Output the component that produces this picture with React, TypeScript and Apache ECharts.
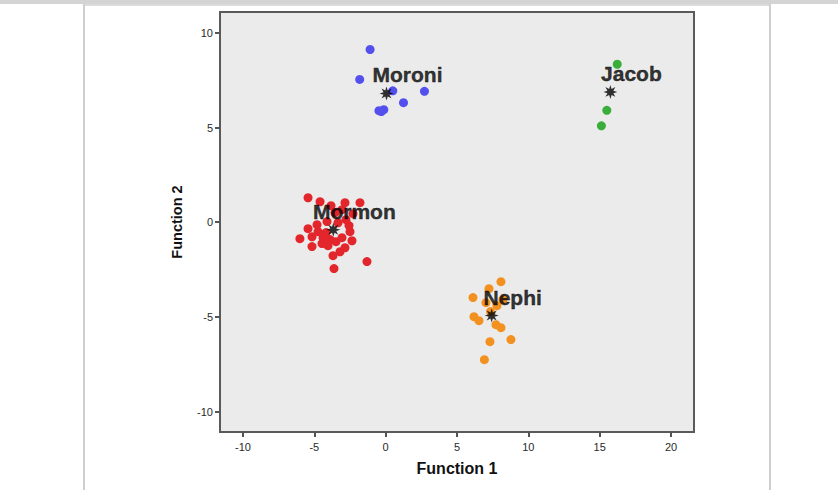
import React, { useEffect, useRef } from "react";
import * as echarts from "echarts";

// Discriminant scores (Function 1, Function 2) per group
const moroni: [number, number][] = [
  [-1.09, 9.12], [-1.82, 7.54], [0.5, 6.94], [2.72, 6.91], [1.25, 6.31],
  [-0.47, 5.89], [-0.13, 5.94], [-0.3, 5.84],
];
const jacob: [number, number][] = [
  [16.23, 8.34], [15.5, 5.91], [15.12, 5.09],
];
const mormon: [number, number][] = [
  [-5.44, 1.29], [-4.6, 1.08], [-2.85, 1.03], [-1.8, 1.03], [-3.83, 0.87],
  [-3.06, 0.66], [-2.29, 0.45], [-5.44, -0.34], [-4.74, -0.5], [-4.18, -0.55],
  [-6.01, -0.87], [-5.16, -1.29], [-4.39, -0.82], [-3.9, -0.92], [-3.48, -1.03],
  [-3.06, -0.82], [-2.5, -0.5], [-2.36, -0.98], [-2.85, -1.35], [-3.69, -1.77],
  [-3.62, -2.45], [-1.31, -2.08], [-4.81, -0.13], [-4.11, 0.03], [-3.34, -0.03],
  [-2.57, -0.18], [-4.46, -1.13], [-3.2, -1.56], [-5.16, -0.77], [-4.04, -1.24],
  [-2.78, 0.13], [-3.55, 0.5],
];
const nephi: [number, number][] = [
  [8.08, -3.14], [7.24, -3.51], [6.12, -3.98], [7.03, -4.25], [7.8, -4.41],
  [8.22, -4.09], [6.19, -4.99], [6.54, -5.2], [7.73, -5.41], [8.08, -5.57],
  [7.31, -6.31], [8.78, -6.2], [6.92, -7.26], [7.35, -4.72],
];

const groupNames = ["Moroni", "Jacob", "Mormon", "Nephi"];
const centroidX = [0.06, 15.75, -3.67, 7.43];
const centroidY = [6.8, 6.88, -0.4, -4.93];

const xTicks = [-10, -5, 0, 5, 10, 15, 20];
const yTicks = [-10, -5, 0, 5, 10];

// 8-spoke asterisk symbol
const starPath = (() => {
  const pts: string[] = [];
  for (let i = 0; i < 16; i++) {
    const r = i % 2 === 0 ? 10 : 4.6;
    const a = (i * Math.PI) / 8 - Math.PI / 2;
    pts.push(`${(10 + r * Math.cos(a)).toFixed(2)} ${(10 + r * Math.sin(a)).toFixed(2)}`);
  }
  return "path://M" + pts.join(" L") + " Z";
})();

const FONT = '"Liberation Sans", Arial, sans-serif';

export default function App() {
  const ref = useRef<HTMLDivElement>(null);
  useEffect(() => {
    if (!ref.current) return;
    const chart = echarts.init(ref.current, null, { renderer: "svg" });
    const dotSeries = (data: [number, number][], color: string) => ({
      type: "scatter",
      data,
      symbol: "circle",
      symbolSize: 9,
      itemStyle: { color, opacity: 1 },
      z: 2,
    });
    chart.setOption({
      animation: false,
      backgroundColor: "#ffffff",
      textStyle: { fontFamily: FONT },
      grid: {
        left: 220, top: 12, width: 474, height: 420,
        show: true, backgroundColor: "#ebebeb", borderColor: "#5a5a5a", borderWidth: 2,
        containLabel: false, outerBoundsMode: "none",
      },
      xAxis: {
        type: "value", min: -11.61, max: 21.61,
        name: "Function 1", nameLocation: "middle", nameGap: 28,
        nameTextStyle: { fontFamily: FONT, fontSize: 16, fontWeight: "bold", color: "#111" },
        axisLine: { show: false, onZero: false },
        splitLine: { show: false },
        axisTick: { show: true, customValues: xTicks, length: 5, lineStyle: { color: "#555", width: 2 } },
        axisLabel: { customValues: xTicks, margin: 9, fontSize: 11, color: "#2a2a2a", fontFamily: FONT },
      },
      yAxis: {
        type: "value", min: -11.08, max: 11.1,
        name: "Function 2", nameLocation: "middle", nameGap: 36, nameRotate: 90,
        nameTextStyle: { fontFamily: FONT, fontSize: 14.5, fontWeight: "bold", color: "#111" },
        axisLine: { show: false, onZero: false },
        splitLine: { show: false },
        axisTick: { show: true, customValues: yTicks, length: 5, lineStyle: { color: "#555", width: 2 } },
        axisLabel: { customValues: yTicks, margin: 7, fontSize: 11, color: "#2a2a2a", fontFamily: FONT },
      },
      graphic: [
        { type: "rect", shape: { x: 0, y: 0, width: 838, height: 4 }, style: { fill: "#d4d4d4" }, silent: true },
        { type: "rect", shape: { x: 83, y: 4, width: 688, height: 2 }, style: { fill: "#dcdcdc" }, silent: true },
        { type: "rect", shape: { x: 83, y: 4, width: 2, height: 486 }, style: { fill: "#cfcfcf" }, silent: true },
        { type: "rect", shape: { x: 769, y: 4, width: 2, height: 486 }, style: { fill: "#cfcfcf" }, silent: true },
      ],
      series: [
        dotSeries(moroni, "#5450ee"),
        dotSeries(jacob, "#3aae3a"),
        dotSeries(mormon, "#e2262c"),
        dotSeries(nephi, "#f2911f"),
        {
          type: "scatter",
          data: groupNames.map((n, i) => ({ name: n, value: [centroidX[i], centroidY[i]] })),
          symbol: starPath,
          symbolSize: 14,
          itemStyle: { color: "#000" },
          z: 5,
          label: {
            show: true,
            formatter: "{b}",
            position: [28, -11.5],
            align: "center",
            verticalAlign: "middle",
            fontFamily: FONT,
            fontSize: 21,
            fontWeight: "bold",
            color: "#000",
            textBorderColor: "#000",
            textBorderWidth: 0.4,
          },
        },
      ],
    });
    return () => chart.dispose();
  }, []);
  return (
    <div
      ref={ref}
      style={{ position: "fixed", left: 0, top: 0, width: 838, height: 490 }}
    />
  );
}
